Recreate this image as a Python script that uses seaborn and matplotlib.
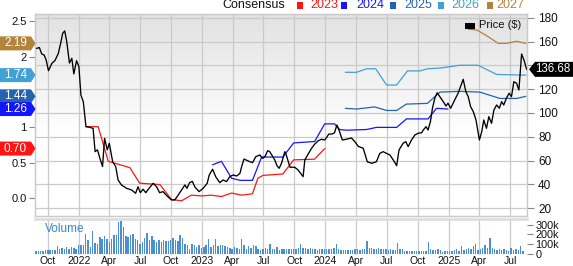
import numpy as np
import pandas as pd
import matplotlib
matplotlib.use("Agg")
import matplotlib.pyplot as plt
import matplotlib.dates as mdates
from matplotlib.patches import Polygon, Rectangle
import seaborn as sns

# ---------------- data ----------------
price_dates = ["2021-08-25","2021-09-06","2021-09-13","2021-09-20","2021-09-26","2021-10-03","2021-10-13","2021-10-22",
    "2021-11-01","2021-11-08","2021-11-14","2021-11-20","2021-11-26","2021-12-04","2021-12-11","2021-12-17","2021-12-25",
    "2022-01-01","2022-01-07","2022-01-14","2022-01-22","2022-02-02","2022-02-12","2022-02-18","2022-02-25","2022-03-04",
    "2022-03-12","2022-03-18","2022-03-26","2022-04-01","2022-04-11","2022-04-20","2022-04-27","2022-05-07","2022-05-22",
    "2022-06-06","2022-06-18","2022-06-25","2022-07-02","2022-07-10","2022-07-18","2022-07-28","2022-08-09","2022-08-19",
    "2022-08-28","2022-09-07","2022-09-19","2022-10-02","2022-10-12","2022-10-22","2022-11-01","2022-11-11","2022-11-17",
    "2022-11-25","2022-12-03","2022-12-11","2022-12-23","2023-01-04","2023-01-16","2023-01-22","2023-02-01","2023-02-10",
    "2023-02-22","2023-03-04","2023-03-14","2023-03-24","2023-04-03","2023-04-13","2023-04-23","2023-04-28","2023-05-05",
    "2023-05-17","2023-05-30","2023-06-09","2023-06-21","2023-06-29","2023-07-06","2023-07-14","2023-07-20","2023-07-28",
    "2023-08-04","2023-08-11","2023-08-17","2023-08-24","2023-09-03","2023-09-08","2023-09-18","2023-10-02","2023-10-12",
    "2023-10-27","2023-11-01","2023-11-11","2023-11-21","2023-11-30","2023-12-10","2023-12-20","2023-12-30","2024-01-06",
    "2024-01-11","2024-01-21","2024-01-28","2024-02-04","2024-02-12","2024-02-20","2024-03-03","2024-03-18","2024-03-28",
    "2024-04-07","2024-04-22","2024-05-04","2024-05-17","2024-05-31","2024-06-10","2024-06-20","2024-06-30","2024-07-10",
    "2024-07-20","2024-07-30","2024-08-06","2024-08-18","2024-08-26","2024-09-02","2024-09-12","2024-09-22","2024-10-02",
    "2024-10-12","2024-10-17","2024-10-25","2024-10-31","2024-11-07","2024-11-13","2024-11-20","2024-11-27","2024-12-05",
    "2024-12-15","2024-12-23","2024-12-29","2025-01-06","2025-01-18","2025-01-28","2025-02-04","2025-02-12","2025-02-20",
    "2025-02-27","2025-03-06","2025-03-14","2025-03-22","2025-03-27","2025-04-01","2025-04-08","2025-04-14","2025-04-22",
    "2025-04-29","2025-05-07","2025-05-14","2025-05-22","2025-05-30","2025-06-06","2025-06-12","2025-06-20","2025-06-28",
    "2025-07-05","2025-07-12","2025-07-20","2025-07-27","2025-08-04","2025-08-11","2025-08-19"]
price_values = [154,155,149.6,148.7,144.5,135.5,141.8,144,
    150,158.6,167,169,160,142,146,132.8,144,
    139,115,109.5,88.5,88,87,67.5,69,62,
    55,78.7,69,74.5,59,55,43.7,39.5,36.7,
    35.3,32.5,38,33,35.9,33,36.7,40.9,38,
    33,33.9,30.3,26.9,26.9,31,35.3,39.5,36.7,
    41.5,42.5,37.5,33.9,36.7,40.9,47.9,52.7,46.5,
    41.4,43.7,42.3,46.5,47.9,47,49.3,55,61.3,
    59.7,58.2,63.3,64.7,61.9,63.3,68.3,67.5,63.9,
    60.5,55.5,53.5,57.7,67.5,63.9,54.4,54.4,52.1,
    46.5,60.5,65.5,70.3,73.7,76.5,77.9,77.3,80,
    82.3,82.3,83.4,89.9,84.3,77.3,77.9,79,76,
    72,70.3,59,57.7,59,66,67.5,66,64.7,
    60.5,55.7,68.9,74.5,75.9,71.7,77.3,81.5,83,
    83.4,85.7,88.5,85.7,92.7,104,112.4,117,113.7,
    109.5,105.9,108.2,104,111,116.6,122,128.3,117.9,
    113.7,105.3,101.1,94.1,85.7,77.3,84.3,94.1,87.1,
    96.9,91.3,102.5,106.7,104,109.5,106.7,112.4,116.6,
    113.7,126.3,125,119.3,149.6,144.5,136.68]

eps2023_dates = ["2022-01-22","2022-02-27","2022-03-29","2022-06-01","2022-06-30","2022-08-29","2022-10-02","2022-11-01",
    "2022-11-30","2022-12-30","2023-01-29","2023-02-27","2023-03-29","2023-04-28","2023-05-30","2023-06-15","2023-06-30",
    "2023-08-28","2023-09-29","2023-11-30","2023-12-30"]
eps2023 = [1.01,1.01,0.52,0.43,0.21,0.19,-0.02,-0.04,0.04,0.03,0.04,0.02,0.07,0.04,0.06,0.28,0.32,0.34,0.54,0.55,0.70]

eps2024_dates = ["2023-02-01","2023-02-27","2023-03-29","2023-04-23","2023-05-30","2023-06-26","2023-08-28","2023-09-29",
    "2023-11-30","2023-12-30","2024-01-28","2024-02-12","2024-03-03","2024-05-02","2024-05-31","2024-07-30","2024-08-28",
    "2024-10-31","2024-11-25","2024-12-29"]
eps2024 = [0.47,0.52,0.28,0.25,0.25,0.58,0.58,0.78,0.80,1.05,1.05,0.97,0.96,0.97,1.0,1.0,1.12,1.12,1.27,1.26]

eps2025_dates = ["2024-02-29","2024-04-02","2024-05-26","2024-06-30","2024-07-30","2024-08-28","2024-10-29","2024-12-05",
    "2025-02-02","2025-04-02","2025-06-01","2025-07-20","2025-08-17"]
eps2025 = [1.27,1.26,1.29,1.24,1.24,1.33,1.34,1.50,1.51,1.50,1.41,1.41,1.44]

eps2026_dates = ["2024-02-29","2024-04-02","2024-05-02","2024-05-29","2024-06-30","2024-07-30","2024-08-31","2024-10-07",
    "2024-10-29","2024-12-05","2025-02-02","2025-03-28","2025-05-22","2025-08-17"]
eps2026 = [1.78,1.78,1.83,1.83,1.60,1.60,1.80,1.80,1.83,1.84,1.88,1.88,1.75,1.74]

eps2027_dates = ["2025-02-27","2025-03-24","2025-04-22","2025-05-27","2025-06-20","2025-07-20","2025-08-17"]
eps2027 = [2.39,2.38,2.30,2.19,2.19,2.22,2.19]

volume_start = "2021-08-27"
volume_k = [30,28,30,32,35,38,35,40,38,82,52,55,50,70,52,65,55,48,
    85,88,95,200,137,70,237,110,96,172,155,185,148,
    120,150,190,190,327,337,275,180,172,190,200,155,140,
    103,120,165,217,137,182,137,120,137,120,137,127,130,
    137,162,137,127,190,162,103,93,52,96,86,69,86,
    58,69,86,148,69,86,155,76,86,86,76,69,60,
    52,69,62,45,155,93,45,76,62,86,79,45,34,
    52,62,45,96,52,52,69,41,45,52,52,52,52,
    52,52,58,103,58,58,45,58,52,45,41,45,48,
    52,52,45,52,62,96,45,41,41,41,34,34,38,
    45,45,41,52,52,127,58,58,45,52,58,45,45,
    45,34,52,41,41,110,52,52,28,24,24,24,28,
    24,24,24,24,28,120,45,41,34,45,34,17,24,
    24,28,28,34,52,28,79,41,52,58,52,76,96,
    41,52,58,86,58,165,58,52,41,52,41,45,34,
    28,58,40,45,35,76,28]

series_names = ["2023","2024","2025","2026","2027"]
series_colors = ["#ff1414","#1414ff","#2563b2","#41a1d3","#b3833a"]
latest_eps = ["0.70","1.26","1.44","1.74","2.19"]
last_price_label = "136.68"

eps_left_ticks = [0.0, 0.5, 1, 2, 2.5]
eps_left_labels = ["0.0", "0.5", "1", "2", "2.5"]
price_ticks = [20, 40, 60, 80, 100, 120, 140, 160, 180]
price_tick_labels = ["20", "40", "60", "80", "100", "120", "", "160", "180"]  # 140 hidden under price box
vol_ticks = [0, 100, 200, 300]
vol_labels = ["0", "100k", "200k", "300k"]

# ---------------- figure ----------------
sns.set_theme(style="white")
plt.rcParams['font.family'] = ['Liberation Sans', 'DejaVu Sans']

W, H = 573, 266
fig = plt.figure(figsize=(W / 100, H / 100), dpi=100)
fig.patch.set_facecolor("white")

def fx(px):
    return px / W

def fy(py):
    return 1 - py / H

L, R, T, B = 35, 527, 14, 216
VT, VB = 219, 254.5
ax = fig.add_axes([fx(L), fy(B), fx(R) - fx(L), fy(T) - fy(B)])
axp = ax.twinx()
axv = fig.add_axes([fx(L), fy(VB), fx(R) - fx(L), fy(VT) - fy(VB)])

xmin, xmax = pd.Timestamp("2021-08-24"), pd.Timestamp("2025-08-20")
elo, ehi = -0.255, 2.606
plo, phi = 13.4, 183.2

grid_c = "#cacaca"

# gradient background
n = 200
frac = np.linspace(0, 1, n)
g = np.where(frac < 0.6, 0.885 + (1 - 0.885) * frac / 0.6, 1.0)
img = np.dstack([g, g, g]).reshape(n, 1, 3)
ax.imshow(img, extent=[0, 1, 0, 1], transform=ax.transAxes, aspect="auto", zorder=-5, origin="upper")

# EPS lines
for d, v, c in zip([eps2023_dates, eps2024_dates, eps2025_dates, eps2026_dates, eps2027_dates],
                   [eps2023, eps2024, eps2025, eps2026, eps2027], series_colors):
    sns.lineplot(x=pd.to_datetime(d), y=v, ax=ax, color=c, lw=0.9, estimator=None, sort=False, legend=False)

# price line
sns.lineplot(x=pd.to_datetime(price_dates), y=price_values, ax=axp, color="black", lw=0.95,
             estimator=None, sort=False, legend=False)

# volume bars
vdates = pd.date_range(volume_start, periods=len(volume_k), freq="7D")
axv.bar(mdates.date2num(vdates), volume_k, width=4.2, color="#4b8ed1", linewidth=0, zorder=2)

# quarter ticks
qdates = pd.date_range("2021-10-01", "2025-07-01", freq="QS")
qlabels = [str(d.year) if d.month == 1 else d.strftime("%b") for d in qdates]
qnum = mdates.date2num(qdates)

for a in (ax, axp, axv):
    a.set_xlim(mdates.date2num(xmin), mdates.date2num(xmax))
ax.set_ylim(elo, ehi)
axp.set_ylim(plo, phi)
axv.set_ylim(-8, 358)

ax.set_xticks(qnum)
ax.set_xticklabels([])
ax.tick_params(axis="x", bottom=False, labelbottom=False, length=0)
axp.tick_params(axis="x", bottom=False, labelbottom=False, length=0)
conv = [elo + (p - plo) * (ehi - elo) / (phi - plo) for p in price_ticks]
ax.set_yticks(conv, minor=True)
ax.set_axisbelow(True)
ax.grid(True, which="major", axis="x", color=grid_c, lw=0.9)
ax.grid(True, which="minor", axis="y", color=grid_c, lw=0.9)
ax.grid(False, which="major", axis="y")
ax.tick_params(axis="y", which="minor", left=False, right=False)

ax.set_yticks(eps_left_ticks)
ax.set_yticklabels(eps_left_labels)
ax.tick_params(axis="y", which="major", left=True, length=4, width=0.8, color="#888888",
               labelsize=8, pad=2, labelcolor="#111111")

axp.set_yticks(price_ticks)
axp.set_yticklabels(price_tick_labels)
axp.tick_params(axis="y", right=True, length=5, width=0.8, color="#888888",
                labelsize=8.5, pad=3, labelcolor="#111111")
axp.grid(False)

for a in (ax, axp):
    for s in a.spines.values():
        s.set_color(grid_c)
        s.set_linewidth(0.9)

# volume axes styling
axv.set_xticks(qnum)
axv.set_xticklabels(qlabels)
axv.tick_params(axis="x", bottom=False, length=0, labelsize=7.5, pad=0.8, labelcolor="#111111")
axv.grid(True, axis="x", color=grid_c, lw=0.9)
axv.grid(False, axis="y")
axv.set_axisbelow(True)
axv.yaxis.tick_right()
axv.set_yticks(vol_ticks)
axv.set_yticklabels(vol_labels)
axv.tick_params(axis="y", left=False, right=True, length=4, width=0.8, color="#888888",
                labelsize=7.8, pad=2, labelcolor="#111111")
for k, s in axv.spines.items():
    s.set_visible(False)
axv.spines["top"].set_visible(True)
axv.spines["top"].set_color("#dcdcdc")
axv.spines["top"].set_linewidth(1.9)
axv.text(0.02, 0.72, "Volume", transform=axv.transAxes, color="#3a86c6", fontsize=8.5, va="center")

# ---------------- annotations ----------------
fig.canvas.draw()

def eps_y_px(v):
    yd = ax.transData.transform((0, v))[1]
    return H - yd

def price_y_px(v):
    yd = axp.transData.transform((0, v))[1]
    return H - yd

def add_poly(pts, color):
    verts = [(fx(x), fy(y)) for x, y in pts]
    fig.add_artist(Polygon(verts, closed=True, transform=fig.transFigure, facecolor=color,
                           edgecolor="none", zorder=5))

# left consensus boxes
order = [4, 3, 2, 1, 0]
for i in order:
    yc = eps_y_px(float(latest_eps[i]))
    hh = 7
    add_poly([(0, yc - hh), (31, yc - hh), (35.5, yc), (31, yc + hh), (0, yc + hh)], series_colors[i])
    fig.text(fx(15.5), fy(yc), latest_eps[i], color="white", fontsize=8.5, ha="center", va="center",
             zorder=6)

# right price box
yc = price_y_px(price_values[-1])
hh = 7.5
add_poly([(529, yc), (535, yc - hh), (573, yc - hh), (573, yc + hh), (535, yc + hh)], "black")
fig.text(fx(553), fy(yc), last_price_label, color="white", fontsize=8.3, ha="center", va="center", zorder=6)

# price legend
fig.add_artist(Rectangle((fx(465), fy(28.5)), 10 / W, 5.5 / H, transform=fig.transFigure,
                         facecolor="black", edgecolor="none", zorder=5))
fig.text(fx(479), fy(25.5), "Price ($)", color="#111111", fontsize=8, ha="left", va="center", zorder=6)

# top consensus legend
fig.text(fx(285), fy(5.5), "Consensus", color="#111111", fontsize=9, ha="right", va="center")
sq_x = [296.5, 341, 390, 438, 486.5]
tx_x = [310.5, 356.5, 404, 451.5, 496.5]
for i in range(5):
    fig.add_artist(Rectangle((fx(sq_x[i]), fy(9)), 6 / W, 7 / H, transform=fig.transFigure,
                             facecolor=series_colors[i], edgecolor="none"))
    fig.text(fx(tx_x[i]), fy(5.5), series_names[i], color=series_colors[i], fontsize=9,
             ha="left", va="center")

fig.savefig("out.png", dpi=100)
